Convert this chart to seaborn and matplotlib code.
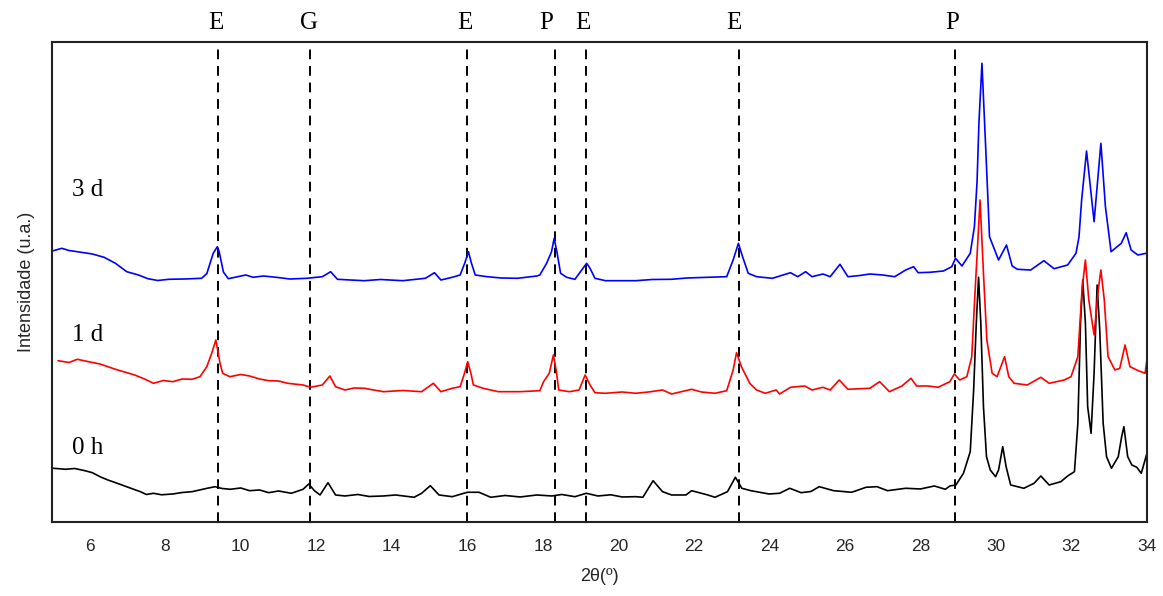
import numpy as np
import pandas as pd
import matplotlib
matplotlib.use("Agg")
import matplotlib.pyplot as plt
import matplotlib.transforms as mtransforms
import seaborn as sns

# ---------------- data ----------------
x_0h = [5.04, 5.36, 5.6, 5.87, 6.07, 6.27, 6.48, 6.78, 7.09, 7.34, 7.5, 7.69, 7.9, 8.2, 8.45, 8.71,
        9.11, 9.32, 9.5, 9.72, 10.0, 10.23, 10.5, 10.74, 11.0, 11.34, 11.65, 11.8, 11.95, 12.1,
        12.31, 12.51, 12.76, 13.1, 13.4, 13.78, 14.1, 14.59, 14.79, 15.02, 15.25, 15.6, 16.0,
        16.31, 16.62, 17.0, 17.4, 17.84, 18.24, 18.5, 18.85, 19.15, 19.46, 19.8, 20.1, 20.46,
        20.65, 20.92, 21.17, 21.41, 21.79, 21.94, 22.37, 22.56, 22.89, 23.1, 23.27, 23.51, 23.99,
        24.27, 24.54, 24.84, 25.1, 25.32, 25.7, 26.18, 26.56, 26.85, 27.13, 27.61, 28.0, 28.37,
        28.66, 28.78, 28.94, 29.14, 29.32, 29.41, 29.48, 29.54, 29.6, 29.67, 29.75, 29.85, 29.99,
        30.07, 30.18, 30.27, 30.39, 30.74, 31.01, 31.19, 31.41, 31.72, 31.9, 32.08, 32.17, 32.24,
        32.3, 32.37, 32.43, 32.52, 32.6, 32.68, 32.75, 32.84, 32.93, 33.06, 33.24, 33.33, 33.39,
        33.49, 33.6, 33.73, 33.85, 34.0]
y_0h = [53.7, 52.7, 53.5, 51.3, 49.3, 45.3, 42, 38, 33.7, 30.3, 27.5, 28.7, 27.2, 28, 29.5, 30.3,
        33.7, 35.3, 33.5, 32.7, 34, 31.3, 32, 29.3, 31, 28.7, 32.7, 38, 31.3, 27,
        39.3, 27, 26, 27.5, 25.5, 26, 27, 24.7, 28.7, 36.3, 27, 25.3, 29.7,
        29.7, 24.7, 26.5, 25, 27, 26, 27.5, 25.3, 28.7, 26, 27.2, 25, 25.3,
        24.7, 41.3, 30.3, 27, 27, 31.3, 27, 24.7, 30.3, 44.7, 33.7, 31.3, 28,
        28.7, 33.7, 29.3, 30.5, 35.3, 31.3, 29.7, 34.7, 35.3, 31.3, 33.7, 33, 36,
        32.7, 36, 37, 48.7, 70.3, 132, 198.7, 244.7, 198.7, 115.3, 65.3, 52, 45.3,
        52, 75.3, 55.3, 37, 33.7, 38.7, 46, 37, 40.3, 46, 50.3, 98.7, 198.7,
        242, 198.7, 115.3, 88.7, 148.7, 237, 192, 98.7, 65.3, 53.7, 65.3, 85.3, 95.3,
        65.3, 57, 54.7, 48.7, 68.7]

x_1d = [5.16, 5.45, 5.67, 5.97, 6.27, 6.68, 7.19, 7.45, 7.69, 7.95, 8.2, 8.45, 8.71, 8.92, 9.1, 9.23,
        9.34, 9.45, 9.52, 9.71, 10.0, 10.23, 10.5, 10.74, 11.0, 11.24, 11.65, 11.85, 12.16, 12.36,
        12.51, 12.76, 13.0, 13.27, 13.78, 14.3, 14.79, 15.1, 15.3, 15.6, 15.81, 15.92, 16.01,
        16.1, 16.16, 16.42, 16.82, 17.39, 17.92, 18.02, 18.17, 18.28, 18.36, 18.42, 18.7, 18.96,
        19.12, 19.25, 19.38, 19.66, 20.1, 20.46, 20.8, 21.17, 21.41, 21.94, 22.2, 22.56, 22.87,
        23.04, 23.13, 23.26, 23.48, 23.66, 23.89, 24.18, 24.27, 24.56, 24.94, 25.13, 25.42, 25.61,
        25.85, 26.08, 26.66, 26.92, 27.18, 27.51, 27.75, 27.9, 28.2, 28.47, 28.78, 28.9, 29.04,
        29.23, 29.36, 29.45, 29.58, 29.67, 29.76, 29.9, 30.03, 30.23, 30.34, 30.48, 30.83, 31.19,
        31.41, 31.81, 31.99, 32.17, 32.28, 32.37, 32.46, 32.6, 32.71, 32.78, 32.87, 32.97, 33.15,
        33.28, 33.42, 33.55, 33.77, 33.95, 34.0]
y_1d = [161.3, 159.5, 162.7, 160.3, 158, 152.7, 147, 143, 138.7, 141.5, 140.3, 143, 142.7, 145.3, 155.3, 168.7,
        182, 158.7, 148.7, 145.3, 147.5, 146, 143, 141.3, 141, 138.7, 137, 134.7, 137, 146,
        135.3, 132, 134, 133.7, 130.3, 131.5, 130.3, 138.7, 130.3, 133.7, 135.3, 148, 160.3,
        148, 137, 133.7, 130.3, 130.3, 131.3, 140.3, 148.7, 167, 150.3, 132, 130.3, 132,
        147, 137, 129.3, 128.7, 130, 128.7, 130, 132, 128, 132.7, 130, 128.7, 131.3,
        152, 169.3, 155.3, 138.7, 132, 128.7, 132, 128, 134.7, 136, 132, 134.7, 132,
        142, 132.7, 133.7, 140.3, 130.3, 136, 143.7, 136, 136, 134.7, 140.3, 148, 142,
        145.3, 165.3, 232, 322, 248.7, 182, 148.7, 145.3, 165.3, 145.3, 138.7, 137, 144.7,
        138.7, 142, 145.3, 165.3, 232, 262, 222, 187, 232, 252, 222, 165.3, 152,
        153.7, 177, 155.3, 151.3, 148.7, 162]

x_3d = [5.04, 5.26, 5.45, 5.67, 6.07, 6.38, 6.68, 6.98, 7.29, 7.54, 7.8, 8.1, 8.5, 8.96, 9.1, 9.27,
        9.38, 9.43, 9.54, 9.67, 10.13, 10.33, 10.6, 10.94, 11.3, 11.75, 12.16, 12.38, 12.56, 12.9,
        13.27, 13.7, 14.29, 14.89, 15.13, 15.3, 15.6, 15.81, 15.93, 16.03, 16.11, 16.21, 16.52,
        16.9, 17.33, 17.84, 17.92, 18.1, 18.23, 18.3, 18.38, 18.47, 18.63, 18.85, 19.03, 19.16,
        19.25, 19.38, 19.66, 20.04, 20.46, 20.9, 21.41, 21.81, 22.37, 22.87, 23.04, 23.18, 23.29,
        23.44, 23.66, 24.08, 24.56, 24.75, 24.96, 25.13, 25.42, 25.61, 25.87, 26.08, 26.4, 26.66,
        27.0, 27.32, 27.61, 27.82, 27.94, 28.25, 28.61, 28.83, 28.93, 29.1, 29.32, 29.43, 29.5,
        29.55, 29.63, 29.72, 29.78, 29.83, 30.07, 30.28, 30.43, 30.57, 30.92, 31.27, 31.54, 31.9,
        32.12, 32.2, 32.27, 32.4, 32.6, 32.78, 32.9, 33.05, 33.32, 33.45, 33.58, 33.76, 33.98]
y_3d = [271.3, 273.7, 271.5, 270.3, 268, 264.7, 258.7, 250.3, 247, 243.3, 241.5, 242.7, 243, 243.7, 248.3, 268.7,
        275.3, 270, 250, 243.3, 247, 244.7, 246, 244.7, 243, 243.7, 245.3, 250.3, 242.7, 242,
        241.3, 242.5, 241.3, 243.7, 249.3, 242, 244.7, 247, 258.7, 270.3, 258.7, 247, 245.3,
        244, 243.7, 246, 247, 258.7, 270.3, 283.7, 268.7, 248.7, 244.7, 242.7, 252, 258.7,
        253.7, 243.7, 241.3, 241.3, 241.3, 242.5, 242.7, 244, 244.7, 245.3, 262, 278.7, 265.3,
        248.7, 245.3, 243.7, 249.3, 245.3, 250.3, 245.3, 248, 245.3, 257.7, 245.3, 246.5, 248,
        247, 245.3, 252, 255.3, 249.3, 249.7, 251, 255.3, 263.7, 256, 268.7, 295.3, 340,
        399, 458.7, 382, 330, 285.3, 262, 277, 256, 252.7, 252, 261.3, 253.3, 257,
        268.7, 285, 322, 371, 300.3, 378.7, 315.3, 270.3, 278.7, 289.3, 272, 267, 268.7]

series_names = ["0 h", "1 d", "3 d"]
series_colors = ["#000000", "#ff0000", "#0000ff"]
label_x = [5.95, 5.95, 5.95]
label_y = [74, 187, 332]

ref_positions = [9.40, 11.83, 16.0, 18.32, 19.14, 23.19, 28.91]
ref_labels = ["E", "G", "E", "P", "E", "E", "P"]
ref_label_x = [9.33, 11.8, 15.93, 18.1, 19.06, 23.07, 28.83]

xticks = [6, 8, 10, 12, 14, 16, 18, 20, 22, 24, 26, 28, 30, 32, 34]

# ---------------- build table ----------------
frames = []
for name, xs, ys in zip(series_names, [x_0h, x_1d, x_3d], [y_0h, y_1d, y_3d]):
    frames.append(pd.DataFrame({"x": xs, "y": ys, "sample": name}))
df = pd.concat(frames, ignore_index=True)

# ---------------- plot ----------------
sns.set_theme(style="white")
plt.rcParams["font.family"] = ["Liberation Sans", "DejaVu Sans"]

fig = plt.figure(figsize=(11.63, 5.96), dpi=100)
ax = fig.add_axes([0.0447, 0.1242, 0.9415, 0.8053])

sns.lineplot(data=df, x="x", y="y", hue="sample", palette=dict(zip(series_names, series_colors)),
             sort=False, estimator=None, linewidth=1.2, legend=False, ax=ax)

for xv in ref_positions:
    ax.axvline(xv, color="black", linestyle=(0, (5, 3.5)), linewidth=1.4, zorder=0.5)

trans = mtransforms.blended_transform_factory(ax.transData, ax.transAxes)
for xv, lab in zip(ref_label_x, ref_labels):
    ax.text(xv, 1.04, lab, transform=trans, ha="center", va="center",
            fontsize=18, family=["Liberation Serif", "DejaVu Serif"], color="black")

for name, lx, ly in zip(series_names, label_x, label_y):
    ax.text(lx, ly, name, ha="center", va="center", fontsize=18,
            family=["Liberation Serif", "DejaVu Serif"], color="black")

ax.set_xlim(5, 34)
ax.set_ylim(0, 480)
ax.set_xticks(xticks)
ax.set_xticklabels([str(t) for t in xticks], fontsize=12.5)
ax.set_yticks([])
ax.tick_params(axis="x", direction="out", length=6, width=1.2, color="black", pad=6)
ax.set_xlabel("2θ(º)", fontsize=13, labelpad=10)
ax.set_ylabel("Intensidade (u.a.)", fontsize=13, labelpad=12)
for sp in ax.spines.values():
    sp.set_visible(True)
    sp.set_color("#222222")
    sp.set_linewidth(1.5)

fig.savefig("out.png", dpi=100)
